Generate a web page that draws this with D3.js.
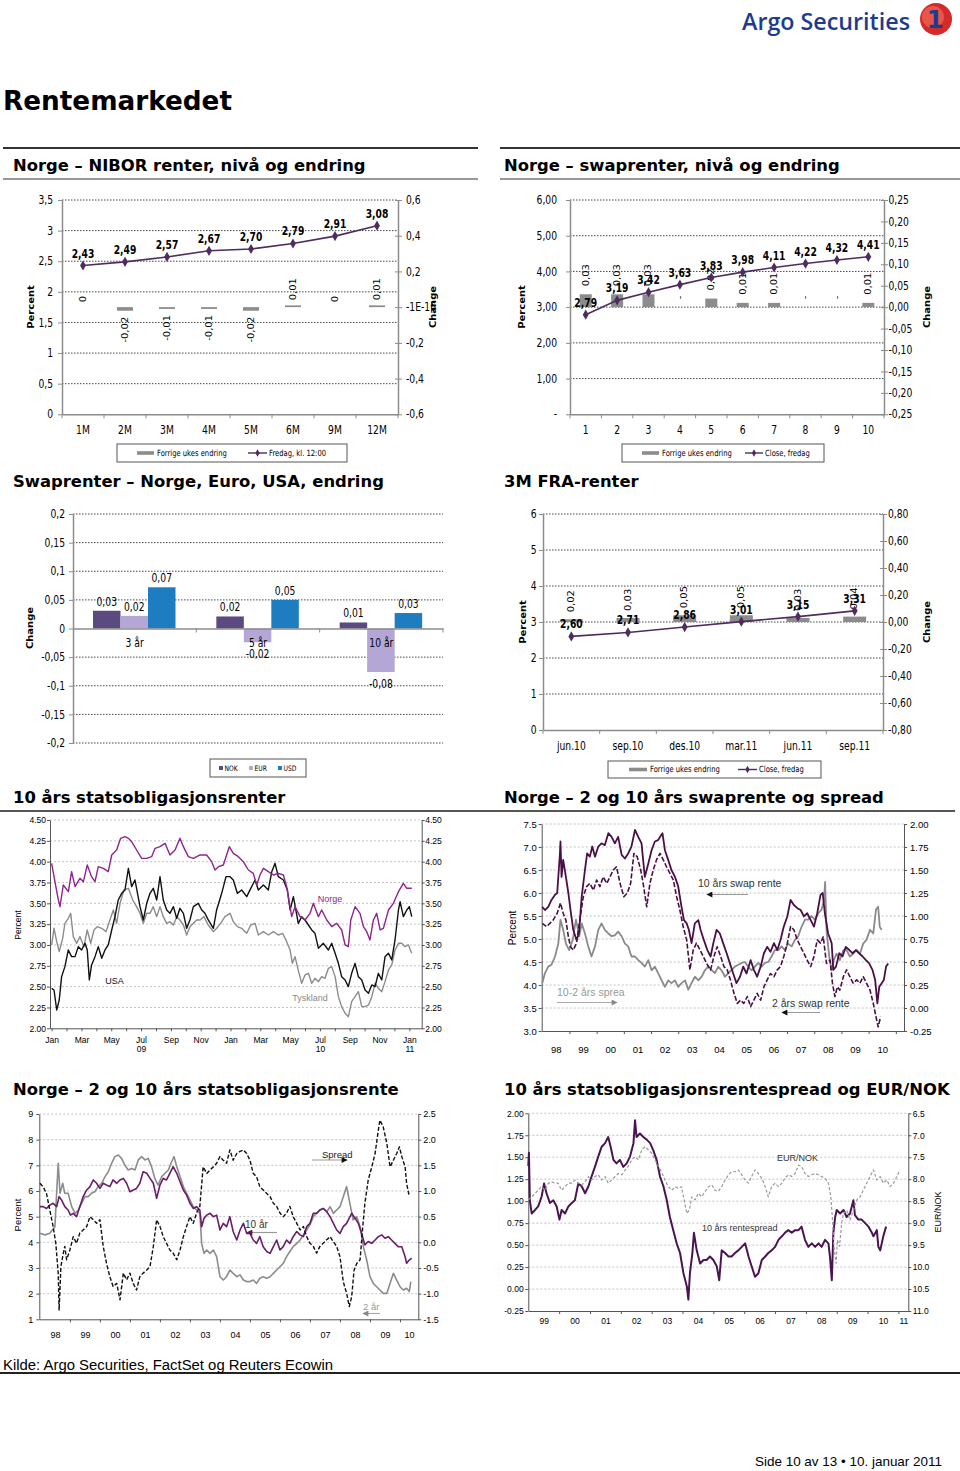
<!DOCTYPE html>
<html><head><meta charset="utf-8">
<script src="https://cdn.jsdelivr.net/npm/d3@7"></script>
<style>body{margin:0;background:#fff}svg{display:block}</style>
</head><body>
<script>
// ---------------- DATA ----------------
const niborCats = ["1M","2M","3M","4M","5M","6M","9M","12M"];
const niborLevel = [2.43,2.49,2.57,2.67,2.70,2.79,2.91,3.08];
const niborChange = [0,-0.02,-0.01,-0.01,-0.02,0.01,0,0.01];
const niborLeftTicks = [0,0.5,1,1.5,2,2.5,3,3.5];
const niborRightTicks = [-0.6,-0.4,-0.2,0,0.2,0.4,0.6];

const swapCats = ["1","2","3","4","5","6","7","8","9","10"];
const swapLevel = [2.79,3.19,3.42,3.63,3.83,3.98,4.11,4.22,4.32,4.41];
const swapChange = [0.03,0.03,0.03,0,0.02,0.01,0.01,0,0,0.01];
const swapLeftTicks = [0,1,2,3,4,5,6];
const swapRightTicks = [-0.25,-0.2,-0.15,-0.1,-0.05,0,0.05,0.1,0.15,0.2,0.25];

const tenorGroups = ["3 år","5 år","10 år"];
const currencies = ["NOK","EUR","USD"];
const nokChange = [0.031,0.021,0.0105];
const eurChange = [0.022,-0.024,-0.076];
const usdChange = [0.072,0.050,0.027];
const chgTicks = [-0.2,-0.15,-0.1,-0.05,0,0.05,0.1,0.15,0.2];

const fraCats = ["jun.10","sep.10","des.10","mar.11","jun.11","sep.11"];
const fraLevel = [2.60,2.71,2.86,3.01,3.15,3.31];
const fraChange = [0.02,0.03,0.05,0.05,0.03,0.04];
const fraLeftTicks = [0,1,2,3,4,5,6];
const fraRightTicks = [-0.8,-0.6,-0.4,-0.2,0,0.2,0.4,0.6,0.8];

// 10y government yields, [months since Jan 2009, %]
const norge10 = [[0.00,3.98],[0.22,3.76],[0.45,3.54],[0.56,3.46],[0.78,3.72],[1.12,3.64],[1.34,3.88],[1.57,3.70],[1.90,3.80],[2.13,3.76],[2.39,3.96],[2.68,3.82],[2.91,3.76],[3.13,3.94],[3.47,3.92],[3.80,3.88],[4.03,4.08],[4.36,4.14],[4.63,4.28],[4.92,4.30],[5.15,4.28],[5.37,4.24],[5.70,4.14],[6.04,4.04],[6.38,4.04],[6.71,4.06],[6.94,4.16],[7.27,4.18],[7.61,4.22],[7.94,4.08],[8.28,4.14],[8.61,4.28],[8.84,4.18],[9.17,4.06],[9.51,4.04],[9.96,4.08],[10.40,4.08],[10.74,4.00],[10.96,3.90],[11.19,3.94],[11.52,3.96],[11.92,4.18],[12.19,4.10],[12.53,4.06],[12.86,4.00],[13.20,3.90],[13.53,3.86],[13.76,3.72],[13.98,3.84],[14.21,3.92],[14.54,3.88],[14.88,3.84],[15.21,3.86],[15.55,3.84],[15.77,3.70],[15.95,3.50],[16.11,3.34],[16.33,3.46],[16.67,3.34],[17.00,3.30],[17.34,3.38],[17.56,3.50],[17.90,3.34],[18.12,3.42],[18.46,3.30],[18.79,3.22],[19.13,3.26],[19.46,3.18],[19.69,3.00],[19.91,2.98],[20.07,3.30],[20.36,3.46],[20.69,3.38],[20.92,3.22],[21.14,3.16],[21.36,3.06],[21.59,3.30],[21.81,3.38],[22.04,3.18],[22.26,3.20],[22.60,3.42],[22.93,3.50],[23.27,3.64],[23.60,3.74],[23.83,3.68],[24.16,3.68]];
const usa10 = [[0.00,2.48],[0.16,2.46],[0.34,2.22],[0.51,2.34],[0.67,2.62],[0.89,2.74],[1.12,2.94],[1.34,2.86],[1.57,2.86],[1.79,2.98],[2.01,2.94],[2.24,3.02],[2.39,2.94],[2.53,2.58],[2.68,2.76],[2.91,2.86],[3.13,2.98],[3.36,2.84],[3.58,2.94],[3.80,3.00],[4.03,3.18],[4.25,3.34],[4.47,3.54],[4.70,3.62],[4.92,3.66],[5.15,3.92],[5.37,3.70],[5.59,3.78],[5.93,3.46],[6.15,3.30],[6.38,3.50],[6.60,3.62],[6.82,3.68],[7.05,3.54],[7.27,3.82],[7.49,3.54],[7.72,3.42],[7.94,3.38],[8.17,3.46],[8.39,3.32],[8.61,3.44],[8.84,3.38],[9.06,3.20],[9.28,3.30],[9.51,3.46],[9.84,3.50],[10.07,3.42],[10.29,3.38],[10.51,3.30],[10.85,3.20],[11.07,3.42],[11.41,3.62],[11.70,3.82],[11.97,3.82],[12.19,3.78],[12.46,3.62],[12.75,3.66],[13.09,3.58],[13.36,3.68],[13.65,3.78],[13.87,3.66],[14.21,3.72],[14.54,3.66],[14.77,3.88],[14.99,3.98],[15.21,3.82],[15.55,3.78],[15.82,3.66],[16.00,3.42],[16.22,3.58],[16.55,3.26],[16.78,3.34],[17.00,3.30],[17.23,3.24],[17.45,3.18],[17.67,3.14],[17.90,2.96],[18.23,3.02],[18.57,2.94],[18.79,3.02],[19.02,2.90],[19.24,2.78],[19.46,2.62],[19.69,2.58],[19.91,2.50],[20.13,2.66],[20.36,2.78],[20.58,2.62],[20.81,2.58],[21.03,2.46],[21.26,2.42],[21.48,2.52],[21.70,2.50],[21.92,2.66],[22.15,2.58],[22.37,2.86],[22.60,2.90],[22.82,2.82],[23.04,3.06],[23.27,3.42],[23.38,3.52],[23.60,3.34],[23.83,3.42],[24.00,3.46],[24.16,3.34]];
const tyskland10 = [[0.00,3.00],[0.16,3.20],[0.34,3.04],[0.51,2.92],[0.74,3.08],[0.89,3.26],[1.12,3.32],[1.28,3.38],[1.45,3.10],[1.68,3.02],[1.90,3.10],[2.17,2.98],[2.39,3.18],[2.62,3.02],[2.84,3.18],[3.06,3.22],[3.36,3.20],[3.65,3.16],[3.91,3.30],[4.14,3.42],[4.36,3.26],[4.59,3.50],[4.85,3.66],[5.15,3.68],[5.44,3.54],[5.70,3.46],[5.93,3.38],[6.15,3.26],[6.38,3.38],[6.60,3.38],[6.82,3.46],[7.05,3.34],[7.27,3.46],[7.49,3.34],[7.72,3.26],[7.94,3.28],[8.17,3.24],[8.39,3.34],[8.61,3.30],[8.84,3.24],[9.06,3.12],[9.28,3.22],[9.51,3.26],[9.73,3.30],[9.96,3.30],[10.22,3.34],[10.51,3.24],[10.85,3.16],[11.07,3.20],[11.34,3.26],[11.63,3.34],[11.97,3.38],[12.19,3.28],[12.46,3.22],[12.75,3.20],[13.09,3.14],[13.36,3.24],[13.65,3.26],[13.87,3.12],[14.21,3.16],[14.54,3.12],[14.88,3.16],[15.21,3.12],[15.50,3.14],[15.77,3.04],[16.00,2.94],[16.15,2.78],[16.33,2.86],[16.60,2.66],[16.78,2.54],[17.00,2.64],[17.23,2.66],[17.45,2.54],[17.67,2.60],[17.90,2.56],[18.12,2.62],[18.34,2.60],[18.57,2.72],[18.79,2.74],[19.02,2.62],[19.24,2.38],[19.46,2.26],[19.69,2.18],[19.91,2.14],[20.13,2.32],[20.36,2.38],[20.58,2.44],[20.81,2.26],[21.03,2.26],[21.26,2.28],[21.48,2.38],[21.70,2.54],[21.92,2.48],[22.15,2.44],[22.37,2.56],[22.60,2.70],[22.82,2.76],[23.04,2.94],[23.27,3.02],[23.49,3.02],[23.71,2.98],[23.94,3.00],[24.16,2.90]];
const monthLabels = ["Jan","Mar","May","Jul","Sep","Nov","Jan","Mar","May","Jul","Sep","Nov","Jan"];
const yearLabels09 = ["09","10","11"];

// Norway swap rates, [years since Jan 1998, value]
const swap10y = [[0.00,5.70],[0.10,5.63],[0.22,5.70],[0.34,5.85],[0.47,5.96],[0.55,6.00],[0.65,6.86],[0.67,7.12],[0.71,6.35],[0.77,6.72],[0.87,6.35],[0.96,6.00],[1.04,5.63],[1.14,5.20],[1.26,4.98],[1.35,5.12],[1.45,5.92],[1.57,6.50],[1.65,6.86],[1.75,6.79],[1.84,7.01],[1.94,6.79],[2.06,7.01],[2.18,7.08],[2.30,7.04],[2.43,7.30],[2.55,7.22],[2.67,7.08],[2.79,7.22],[2.92,6.83],[3.04,6.75],[3.16,6.86],[3.28,7.01],[3.41,7.37],[3.53,7.22],[3.65,7.08],[3.77,6.35],[3.90,6.64],[4.02,6.93],[4.14,7.12],[4.26,7.15],[4.42,7.30],[4.51,6.93],[4.63,6.72],[4.75,6.50],[4.88,6.35],[5.00,6.14],[5.12,5.70],[5.21,5.41],[5.31,5.34],[5.39,5.20],[5.49,4.91],[5.61,5.34],[5.74,5.41],[5.82,5.20],[5.94,4.98],[6.07,4.76],[6.19,4.62],[6.29,4.91],[6.41,5.20],[6.53,5.12],[6.65,4.91],[6.78,4.69],[6.90,4.47],[7.02,4.25],[7.14,4.04],[7.27,4.18],[7.39,4.40],[7.51,4.25],[7.66,4.54],[7.78,4.33],[7.90,4.18],[8.03,4.40],[8.15,4.69],[8.27,4.83],[8.39,4.72],[8.52,4.91],[8.64,4.76],[8.76,4.98],[8.88,5.27],[9.01,5.49],[9.13,5.85],[9.25,5.74],[9.38,5.67],[9.50,5.63],[9.62,5.49],[9.74,5.56],[9.87,5.41],[9.99,5.27],[10.11,5.56],[10.23,5.96],[10.31,6.00],[10.39,5.56],[10.51,5.12],[10.64,4.91],[10.70,4.33],[10.80,4.40],[10.92,4.69],[11.04,4.62],[11.16,4.83],[11.29,4.76],[11.41,4.69],[11.53,4.76],[11.65,4.69],[11.78,4.62],[11.90,4.54],[12.02,4.47],[12.14,4.33],[12.24,4.11],[12.32,3.60],[12.39,3.96],[12.48,4.04],[12.56,4.11],[12.64,4.40],[12.72,4.47]];
const swap2y = [[0.00,5.34],[0.16,5.27],[0.28,5.34],[0.40,5.41],[0.55,5.56],[0.67,5.78],[0.77,5.56],[0.87,5.41],[0.96,5.05],[1.04,4.83],[1.14,4.76],[1.26,4.91],[1.38,5.41],[1.51,5.92],[1.63,6.14],[1.75,6.21],[1.88,6.06],[2.00,6.28],[2.12,6.14],[2.24,6.35],[2.37,6.21],[2.49,6.35],[2.61,6.50],[2.73,6.57],[2.86,6.21],[3.00,5.92],[3.13,6.00],[3.25,6.21],[3.37,6.86],[3.49,6.79],[3.62,6.50],[3.71,6.21],[3.84,5.70],[3.96,6.21],[4.08,6.50],[4.20,6.72],[4.33,6.86],[4.45,6.72],[4.57,6.57],[4.69,6.43],[4.82,6.28],[4.94,5.92],[5.06,5.63],[5.18,5.27],[5.31,4.98],[5.43,4.33],[5.55,4.76],[5.67,4.91],[5.80,4.76],[5.92,4.62],[6.04,4.47],[6.19,4.33],[6.31,4.62],[6.43,4.83],[6.56,4.62],[6.68,4.40],[6.80,4.33],[6.92,4.11],[7.05,3.82],[7.17,3.60],[7.29,3.67],[7.41,3.60],[7.54,3.75],[7.66,3.53],[7.78,3.67],[7.90,3.82],[8.03,3.67],[8.15,3.96],[8.27,4.11],[8.39,4.25],[8.52,4.18],[8.64,4.33],[8.76,4.40],[8.88,4.62],[9.01,4.91],[9.13,5.27],[9.25,5.20],[9.38,4.98],[9.50,4.83],[9.62,4.69],[9.74,4.54],[9.87,4.40],[9.99,4.62],[10.11,4.98],[10.23,4.91],[10.33,5.05],[10.45,4.47],[10.58,4.54],[10.67,4.04],[10.76,3.75],[10.85,3.96],[10.94,3.89],[11.07,4.18],[11.19,4.33],[11.31,4.18],[11.43,4.04],[11.56,4.11],[11.68,4.04],[11.80,4.18],[11.92,4.04],[12.05,3.89],[12.17,3.60],[12.27,3.31],[12.35,3.09],[12.44,3.31]];
const swapSpread = [[0.00,0.27],[0.10,0.38],[0.22,0.45],[0.34,0.47],[0.47,0.56],[0.59,0.70],[0.67,0.96],[0.77,0.85],[0.87,0.70],[0.99,0.63],[1.12,0.74],[1.24,0.96],[1.36,0.78],[1.45,0.92],[1.57,0.81],[1.69,0.67],[1.81,0.56],[1.94,0.67],[2.06,0.85],[2.18,0.92],[2.30,0.85],[2.43,0.81],[2.55,0.78],[2.67,0.79],[2.79,0.83],[2.92,0.78],[3.04,0.70],[3.16,0.67],[3.28,0.56],[3.41,0.56],[3.53,0.52],[3.65,0.49],[3.77,0.45],[3.90,0.52],[4.02,0.41],[4.14,0.45],[4.26,0.38],[4.39,0.30],[4.51,0.23],[4.63,0.30],[4.75,0.27],[4.88,0.30],[5.00,0.23],[5.12,0.27],[5.25,0.30],[5.37,0.20],[5.49,0.27],[5.61,0.34],[5.74,0.30],[5.86,0.34],[5.98,0.41],[6.10,0.45],[6.23,0.41],[6.35,0.38],[6.47,0.45],[6.59,0.41],[6.72,0.34],[6.84,0.38],[6.96,0.41],[7.08,0.45],[7.21,0.47],[7.33,0.49],[7.45,0.50],[7.57,0.45],[7.70,0.41],[7.82,0.45],[7.94,0.49],[8.06,0.45],[8.19,0.49],[8.31,0.50],[8.43,0.56],[8.55,0.63],[8.68,0.63],[8.80,0.67],[8.92,0.63],[9.04,0.70],[9.17,0.67],[9.29,0.74],[9.41,0.78],[9.53,0.88],[9.66,0.96],[9.78,0.96],[9.90,1.00],[10.02,0.96],[10.15,1.03],[10.27,1.07],[10.36,1.17],[10.40,1.37],[10.45,0.85],[10.55,0.56],[10.64,0.41],[10.72,0.52],[10.82,0.59],[10.94,0.52],[11.07,0.63],[11.19,0.63],[11.31,0.56],[11.43,0.59],[11.56,0.63],[11.68,0.59],[11.80,0.70],[11.92,0.74],[12.05,0.85],[12.17,0.81],[12.27,1.07],[12.35,1.10],[12.41,0.88],[12.48,0.85]];
const yearLabels98 = ["98","99","00","01","02","03","04","05","06","07","08","09","10"];

// Norway government bonds, [years since Jan 1998, value]
const gov10y = [[0.00,5.39],[0.11,5.39],[0.22,5.32],[0.33,5.45],[0.44,5.52],[0.56,5.39],[0.64,5.78],[0.72,5.65],[0.83,5.39],[0.94,5.26],[1.02,5.06],[1.11,5.13],[1.22,5.00],[1.33,5.39],[1.44,5.78],[1.56,6.04],[1.67,6.17],[1.78,6.43],[1.89,6.30],[2.00,6.10],[2.11,6.30],[2.22,6.23],[2.33,6.17],[2.44,6.43],[2.56,6.30],[2.67,6.43],[2.78,6.49],[2.89,6.30],[3.00,5.97],[3.11,6.04],[3.22,6.10],[3.33,6.30],[3.44,6.75],[3.56,6.69],[3.67,6.49],[3.78,6.30],[3.89,5.71],[4.00,6.23],[4.11,6.49],[4.22,6.43],[4.33,6.69],[4.44,6.95],[4.56,6.69],[4.67,6.36],[4.78,6.04],[4.89,5.84],[5.00,5.52],[5.11,5.32],[5.22,5.39],[5.33,5.26],[5.39,4.61],[5.47,4.94],[5.56,5.06],[5.67,5.13],[5.78,5.00],[5.89,5.06],[6.00,4.48],[6.11,4.74],[6.22,4.61],[6.33,5.00],[6.44,4.42],[6.56,4.09],[6.67,4.48],[6.78,4.74],[6.89,4.35],[7.00,4.35],[7.11,4.09],[7.22,3.96],[7.33,4.22],[7.44,3.83],[7.56,3.64],[7.67,3.57],[7.78,3.83],[7.89,4.09],[8.00,3.70],[8.11,3.83],[8.22,4.09],[8.33,3.96],[8.44,4.22],[8.56,4.42],[8.67,4.29],[8.78,4.22],[8.89,4.61],[9.00,4.74],[9.11,5.13],[9.22,5.13],[9.33,5.26],[9.44,5.32],[9.56,5.19],[9.67,5.00],[9.78,4.74],[9.89,4.48],[10.00,4.35],[10.11,4.61],[10.22,4.74],[10.39,5.13],[10.50,4.94],[10.61,4.74],[10.72,4.35],[10.83,3.90],[10.94,4.03],[11.06,3.96],[11.17,4.09],[11.28,4.22],[11.39,4.29],[11.50,4.16],[11.61,4.22],[11.72,4.09],[11.83,3.96],[11.94,3.83],[12.06,3.83],[12.17,3.44],[12.22,3.18],[12.31,3.31],[12.39,3.38]];
const gov2y = [[0.00,4.35],[0.17,4.29],[0.33,4.35],[0.50,4.61],[0.61,7.08],[0.67,5.91],[0.76,6.30],[0.83,5.91],[0.94,5.91],[1.06,5.39],[1.17,5.13],[1.28,5.26],[1.39,5.52],[1.50,5.78],[1.61,5.78],[1.72,5.91],[1.83,5.97],[1.94,6.17],[2.06,6.30],[2.17,6.56],[2.28,6.75],[2.39,7.08],[2.50,7.34],[2.61,7.40],[2.72,7.27],[2.83,7.01],[2.94,6.82],[3.06,6.88],[3.17,6.82],[3.28,7.21],[3.39,7.34],[3.50,7.21],[3.61,7.27],[3.72,6.95],[3.83,6.49],[3.94,6.23],[4.06,6.56],[4.17,6.69],[4.28,6.82],[4.39,7.14],[4.47,7.34],[4.56,6.95],[4.67,6.56],[4.78,6.17],[4.89,5.91],[5.00,5.65],[5.11,5.39],[5.22,5.26],[5.33,5.13],[5.39,3.96],[5.47,3.57],[5.56,3.70],[5.67,3.57],[5.78,3.70],[5.89,3.44],[6.00,2.66],[6.11,2.53],[6.22,2.66],[6.33,2.92],[6.44,2.79],[6.56,2.66],[6.67,2.73],[6.78,2.53],[6.89,2.47],[7.00,2.47],[7.11,2.53],[7.22,2.40],[7.33,2.60],[7.44,2.66],[7.56,2.60],[7.67,2.66],[7.78,2.79],[7.89,2.92],[8.00,3.05],[8.11,3.18],[8.22,3.44],[8.33,3.64],[8.44,3.83],[8.56,3.96],[8.67,4.09],[8.78,4.29],[8.89,4.48],[9.00,4.68],[9.11,5.00],[9.22,5.13],[9.33,5.26],[9.44,5.32],[9.56,5.19],[9.67,5.39],[9.78,5.13],[9.89,5.26],[10.00,5.39],[10.11,5.78],[10.22,6.17],[10.33,5.52],[10.44,4.87],[10.56,5.00],[10.67,4.61],[10.78,3.83],[10.89,3.31],[11.00,2.66],[11.11,2.40],[11.22,2.27],[11.33,2.14],[11.44,2.01],[11.56,2.01],[11.67,2.40],[11.78,2.79],[11.89,2.53],[12.00,2.27],[12.11,2.14],[12.22,2.21],[12.31,2.08],[12.36,2.47]];
const govSpread = [[0.00,1.15],[0.11,1.08],[0.22,0.95],[0.33,0.63],[0.44,0.31],[0.53,-0.02],[0.61,-0.60],[0.64,-1.32],[0.70,-0.47],[0.78,-0.21],[0.83,-0.08],[0.89,-0.34],[1.00,-0.15],[1.11,0.11],[1.22,-0.02],[1.33,0.18],[1.44,0.24],[1.56,0.31],[1.67,0.50],[1.78,0.44],[1.89,0.37],[2.00,0.44],[2.11,-0.08],[2.22,-0.41],[2.33,-0.67],[2.44,-0.86],[2.56,-0.80],[2.67,-1.12],[2.78,-0.60],[2.89,-0.73],[3.00,-0.60],[3.11,-0.80],[3.22,-0.93],[3.33,-0.67],[3.44,-0.60],[3.56,-0.54],[3.67,-0.47],[3.78,-0.08],[3.89,0.44],[4.00,0.31],[4.11,0.11],[4.22,-0.02],[4.33,-0.15],[4.44,-0.21],[4.56,-0.34],[4.67,-0.15],[4.78,0.11],[4.89,0.31],[5.00,0.50],[5.11,0.37],[5.22,0.57],[5.33,0.70],[5.44,1.47],[5.56,1.34],[5.67,1.41],[5.78,1.47],[5.89,1.54],[6.00,1.67],[6.11,1.60],[6.22,1.54],[6.33,1.80],[6.44,1.60],[6.56,1.73],[6.67,1.77],[6.78,1.80],[6.89,1.73],[7.00,1.60],[7.11,1.34],[7.22,1.28],[7.33,1.08],[7.44,1.02],[7.56,0.95],[7.67,0.89],[7.78,0.76],[7.89,0.70],[8.00,0.57],[8.11,0.50],[8.22,0.57],[8.33,0.70],[8.44,0.50],[8.56,0.37],[8.67,0.24],[8.78,0.31],[8.89,0.11],[9.00,-0.02],[9.11,-0.08],[9.22,-0.21],[9.33,-0.08],[9.44,-0.02],[9.56,0.05],[9.67,0.11],[9.78,0.01],[9.89,-0.08],[10.00,-0.28],[10.11,-0.77],[10.22,-0.99],[10.31,-1.25],[10.39,-1.06],[10.47,-0.54],[10.56,-0.41],[10.67,-0.34],[10.76,0.31],[10.83,0.76],[10.94,1.21],[11.06,1.47],[11.17,1.73],[11.28,2.19],[11.33,2.38],[11.44,2.25],[11.56,1.93],[11.67,1.47],[11.78,1.60],[11.89,1.73],[11.98,1.86],[12.06,1.67],[12.17,1.47],[12.22,1.15],[12.31,0.89]];

// 10y spread vs EUR/NOK, [years since Jan 1999, value]
const rateSpread = [[0.00,1.40],[0.02,1.55],[0.05,1.01],[0.11,0.86],[0.22,0.90],[0.32,0.94],[0.43,1.05],[0.51,1.20],[0.59,1.09],[0.70,0.98],[0.81,1.01],[0.92,0.94],[1.01,0.79],[1.08,0.90],[1.19,0.86],[1.30,0.94],[1.41,0.98],[1.51,1.01],[1.62,1.20],[1.73,1.17],[1.84,1.09],[1.95,1.17],[2.05,1.28],[2.16,1.39],[2.27,1.51],[2.38,1.62],[2.49,1.66],[2.59,1.73],[2.67,1.62],[2.76,1.47],[2.86,1.43],[2.97,1.47],[3.08,1.39],[3.19,1.43],[3.30,1.51],[3.41,1.66],[3.46,1.92],[3.51,1.73],[3.62,1.77],[3.73,1.73],[3.84,1.70],[3.95,1.66],[4.05,1.58],[4.16,1.47],[4.27,1.28],[4.38,1.17],[4.49,1.01],[4.59,0.82],[4.70,0.67],[4.81,0.52],[4.92,0.41],[5.03,0.18],[5.14,0.03],[5.19,-0.12],[5.24,0.18],[5.32,0.41],[5.37,0.64],[5.46,0.44],[5.57,0.29],[5.68,0.33],[5.78,0.33],[5.89,0.37],[6.00,0.33],[6.11,0.26],[6.19,0.10],[6.27,0.44],[6.38,0.41],[6.49,0.37],[6.59,0.37],[6.70,0.41],[6.81,0.44],[6.92,0.48],[7.03,0.52],[7.14,0.37],[7.24,0.26],[7.35,0.14],[7.46,0.18],[7.57,0.33],[7.68,0.37],[7.78,0.41],[7.89,0.44],[8.00,0.48],[8.11,0.56],[8.22,0.60],[8.32,0.64],[8.43,0.67],[8.54,0.64],[8.65,0.67],[8.76,0.67],[8.86,0.71],[8.97,0.56],[9.08,0.48],[9.19,0.52],[9.30,0.48],[9.41,0.52],[9.51,0.48],[9.62,0.56],[9.73,0.52],[9.78,0.37],[9.84,0.10],[9.89,0.64],[9.95,0.82],[10.00,0.90],[10.11,0.86],[10.22,0.90],[10.32,0.82],[10.43,0.86],[10.54,1.01],[10.59,0.84],[10.70,0.79],[10.81,0.79],[10.92,0.75],[11.03,0.71],[11.14,0.64],[11.19,0.60],[11.30,0.67],[11.35,0.48],[11.41,0.44],[11.51,0.60],[11.60,0.71]];
const eurNok = [[0.00,8.47],[0.11,8.40],[0.22,8.32],[0.32,8.25],[0.43,8.17],[0.54,8.25],[0.65,8.09],[0.76,8.06],[0.86,8.09],[0.97,8.09],[1.08,8.25],[1.19,8.17],[1.30,8.09],[1.41,8.09],[1.51,8.02],[1.62,8.09],[1.73,8.13],[1.84,8.06],[1.95,7.94],[2.05,8.02],[2.16,7.94],[2.27,7.90],[2.38,8.02],[2.49,7.94],[2.59,8.09],[2.70,8.02],[2.81,7.94],[2.92,7.87],[3.03,7.90],[3.14,7.79],[3.24,7.71],[3.35,7.56],[3.46,7.49],[3.57,7.56],[3.68,7.33],[3.78,7.26],[3.89,7.33],[4.00,7.41],[4.11,7.56],[4.22,7.71],[4.32,7.83],[4.43,8.02],[4.54,8.17],[4.65,8.25],[4.76,8.17],[4.86,8.21],[4.97,8.17],[5.05,8.47],[5.14,8.78],[5.22,8.70],[5.30,8.40],[5.41,8.47],[5.51,8.32],[5.62,8.40],[5.73,8.28],[5.84,8.17],[5.95,8.13],[6.05,8.25],[6.16,8.28],[6.27,8.17],[6.38,8.02],[6.49,7.90],[6.59,7.83],[6.70,7.83],[6.81,7.79],[6.92,7.90],[7.03,8.02],[7.14,8.09],[7.24,7.94],[7.35,7.79],[7.46,7.87],[7.57,7.98],[7.68,8.17],[7.78,8.40],[7.89,8.17],[8.00,8.09],[8.11,8.17],[8.22,8.09],[8.32,7.98],[8.43,7.90],[8.54,7.94],[8.65,7.87],[8.76,7.68],[8.86,7.71],[8.97,7.87],[9.08,7.94],[9.19,7.90],[9.30,7.87],[9.41,7.90],[9.51,7.94],[9.62,7.98],[9.73,8.09],[9.81,8.40],[9.87,9.00],[9.91,9.53],[9.98,9.91],[10.02,9.38],[10.09,9.53],[10.16,9.00],[10.22,8.78],[10.32,8.70],[10.43,8.93],[10.54,8.70],[10.65,8.47],[10.76,8.40],[10.86,8.25],[10.97,8.09],[11.08,7.94],[11.19,7.79],[11.30,8.02],[11.41,7.94],[11.51,8.09],[11.62,8.02],[11.73,8.17],[11.84,8.09],[11.95,7.94],[12.05,7.79]];
const yearLabels99 = ["99","00","01","02","03","04","05","06","07","08","09","10","11"];

// ---------------- DRAWING ----------------
const W = 960, H = 1471;
const DV = "DejaVu Sans", LS = "'Liberation Sans', Arial, sans-serif";
const svg = d3.select("body").append("svg").attr("width", W).attr("height", H);
const locC = d3.formatLocale({decimal: ",", thousands: ".", grouping: [3], currency: ["", ""], minus: "-"});
const locD = d3.formatLocale({decimal: ".", thousands: ",", grouping: [3], currency: ["", ""], minus: "-"});
const c2 = locC.format(".2f"), c1 = locC.format(".1f"), cg = locC.format("~g");
const d2 = locD.format(".2f"), d1 = locD.format(".1f"), d0 = locD.format("d");

function T(g, x, y, s, o = {}) {
  const sx = o.sx ?? 1;
  let tr = `translate(${x},${y})`;
  if (sx !== 1) tr += ` scale(${sx},1)`;
  if (o.rot) tr += ` rotate(${o.rot})`;
  const t = g.append("text").attr("transform", tr)
    .attr("text-anchor", o.anchor || "start")
    .attr("font-family", o.family || DV).attr("font-size", o.size || 11)
    .attr("font-weight", o.weight || "normal").attr("fill", o.fill || "#000").text(s);
  if (o.dy) t.attr("dy", o.dy);
  if (o.len) t.attr("textLength", o.len).attr("lengthAdjust", "spacingAndGlyphs");
  return t;
}
function rule(x1, x2, y, w, c) {
  svg.append("line").attr("x1", x1).attr("x2", x2).attr("y1", y).attr("y2", y).attr("stroke", c).attr("stroke-width", w);
}
function styleAx(a, o) {
  a.attr("font-family", o.font).attr("font-size", o.size);
  a.select(".domain").attr("stroke", o.color).attr("stroke-width", o.w);
  a.selectAll(".tick line").attr("stroke", o.color);
  const t = a.selectAll(".tick text").attr("fill", "#000");
  const sx = o.sx ?? 1;
  if (o.gap != null) t.attr("x", (o.side === "L" ? -o.gap : o.gap) / sx);
  if (sx !== 1) t.attr("transform", `scale(${sx},1)`);
}

// header
T(svg, 742, 30, "Argo Securities", {family: "'Open Sans'", size: 23, weight: 600, fill: "#1d3c8f", len: 168});
svg.append("circle").attr("cx", 936).attr("cy", 19).attr("r", 16).attr("fill", "#d42a2a");
svg.append("circle").attr("cx", 933).attr("cy", 17).attr("r", 11).attr("fill", "#e8564a");
T(svg, 935, 28, "1", {size: 24, weight: "bold", fill: "#1d3c8f", anchor: "middle"});
T(svg, 3, 110, "Rentemarkedet", {size: 26, weight: "bold", len: 229});

rule(3, 478, 148, 2, "#333"); rule(500, 960, 148, 2, "#333");
rule(3, 478, 179, 1.2, "#333"); rule(500, 960, 179, 1.2, "#333");
rule(0, 955, 811, 2, "#555");
rule(0, 960, 1373, 2, "#222");

const HS = {size: 16.4, weight: "bold"};
T(svg, 13, 171, "Norge – NIBOR renter, nivå og endring", HS);
T(svg, 504, 171, "Norge – swaprenter, nivå og endring", HS);
T(svg, 13, 487, "Swaprenter – Norge, Euro, USA, endring", HS);
T(svg, 504, 487, "3M FRA-renter", HS);
T(svg, 13, 803, "10 års statsobligasjonsrenter", HS);
T(svg, 504, 803, "Norge – 2 og 10 års swaprente og spread", HS);
T(svg, 13, 1095, "Norge – 2 og 10 års statsobligasjonsrente", HS);
T(svg, 504, 1095, "10 års statsobligasjonsrentespread og EUR/NOK", HS);

T(svg, 3, 1370, "Kilde: Argo Securities, FactSet og Reuters Ecowin", {family: "'Liberation Sans Narrow', 'Liberation Sans'", size: 14, len: 330});
T(svg, 942, 1466, "Side 10 av 13 • 10. januar 2011", {family: "'Liberation Sans Narrow', 'Liberation Sans'", size: 13, anchor: "end", len: 187});

const SX = 0.8, LINEC = "#4e2c5e", BARC = "#8c8c8c", AXC = "#8c8c8c";

function legendBox(g, box) {
  g.append("rect").attr("x", box[0]).attr("y", box[1]).attr("width", box[2] - box[0]).attr("height", box[3] - box[1])
    .attr("fill", "#fff").attr("stroke", "#555").attr("stroke-width", 1);
}

function combo(o) {
  const g = svg.append("g");
  const x = d3.scaleBand().domain(o.cats).range([o.x0, o.x1]);
  const yL = d3.scaleLinear().domain(o.lDom).range([o.yB, o.yT]);
  const yR = d3.scaleLinear().domain(o.rDom).range([o.yB, o.yT]);
  const cx = i => x(o.cats[i]) + x.bandwidth() / 2;
  g.selectAll(null).data(o.lTicks.slice(1)).join("line")
    .attr("x1", o.x0).attr("x2", o.x1).attr("y1", d => yL(d)).attr("y2", d => yL(d))
    .attr("stroke", "#333").attr("stroke-width", 0.9).attr("stroke-dasharray", "1.5,1.5");
  const aL = g.append("g").attr("transform", `translate(${o.x0},0)`)
    .call(d3.axisLeft(yL).tickValues(o.lTicks).tickFormat(o.lFmt).tickSize(4).tickSizeOuter(0));
  styleAx(aL, {font: DV, size: 11.5, color: AXC, w: 1.5, gap: o.lGap, side: "L", sx: SX});
  const aR = g.append("g").attr("transform", `translate(${o.x1},0)`)
    .call(d3.axisRight(yR).tickValues(o.rTicks).tickFormat(o.rFmt).tickSize(4).tickSizeOuter(0));
  styleAx(aR, {font: DV, size: 11.5, color: AXC, w: 1.5, gap: o.rGap, side: "R", sx: SX});
  aR.selectAll(".tick line").attr("x1", -3);
  const aB = g.append("g").attr("transform", `translate(0,${o.yB})`)
    .call(d3.axisBottom(x).tickSize(0).tickPadding(11.5).tickSizeOuter(0));
  styleAx(aB, {font: DV, size: 11.5, color: AXC, w: 1.5, sx: SX});
  g.selectAll(null).data(o.cats.map(c => x(c)).concat([x.range()[1]])).join("line")
    .attr("x1", d => d).attr("x2", d => d).attr("y1", o.yB).attr("y2", o.yB + 4).attr("stroke", AXC);
  // bars
  const y0 = yR(0);
  g.selectAll(null).data(o.change).join("rect")
    .attr("x", (d, i) => cx(i) - o.barW / 2).attr("width", o.barW)
    .attr("y", d => Math.min(yR(d), y0)).attr("height", d => Math.abs(yR(d) - y0)).attr("fill", BARC);
  o.change.forEach((d, i) => {
    const s = d === 0 ? o.zeroLbl : c2(d);
    if (d < 0) T(g, cx(i), yR(d) + o.negGap, s, {rot: -90, anchor: "end", sx: SX, size: 10, dy: "0.35em"});
    else T(g, cx(i), yR(d) - o.posGap, s, {rot: -90, anchor: "start", sx: SX, size: 10, dy: "0.35em"});
  });
  // line
  g.append("path").datum(o.level).attr("d", d3.line().x((d, i) => cx(i)).y(d => yL(d)))
    .attr("fill", "none").attr("stroke", LINEC).attr("stroke-width", 1.6);
  g.selectAll(null).data(o.level).join("path")
    .attr("transform", (d, i) => `translate(${cx(i)},${yL(d)})`)
    .attr("d", d3.symbol(d3.symbolDiamond, 30)).attr("fill", LINEC);
  o.level.forEach((d, i) => T(g, cx(i), yL(d) - 8, c2(d), {anchor: "middle", sx: SX, size: 11.5, weight: "bold"}));
  // titles
  T(g, o.pctX, o.titleY, "Percent", {rot: -90, anchor: "middle", sx: SX, size: 10, weight: "bold", dy: "0.35em"});
  T(g, o.chgX, o.titleY, "Change", {rot: -90, anchor: "middle", sx: SX, size: 10, weight: "bold", dy: "0.35em"});
  // legend
  const L = o.legend, ly = (L.box[1] + L.box[3]) / 2;
  legendBox(g, L.box);
  g.append("rect").attr("x", L.bar[0]).attr("y", ly - 1.8).attr("width", L.bar[1] - L.bar[0]).attr("height", 3.6).attr("fill", BARC);
  T(g, L.t1, ly, L.names[0], {size: 8.5, sx: SX, dy: "0.35em"});
  g.append("line").attr("x1", L.line[0]).attr("x2", L.line[1]).attr("y1", ly).attr("y2", ly).attr("stroke", LINEC).attr("stroke-width", 1.4);
  g.append("path").attr("transform", `translate(${(L.line[0] + L.line[1]) / 2},${ly})`).attr("d", d3.symbol(d3.symbolDiamond, 16)).attr("fill", LINEC);
  T(g, L.t2, ly, L.names[1], {size: 8.5, sx: SX, dy: "0.35em"});
}

combo({cats: niborCats, level: niborLevel, change: niborChange, x0: 62, x1: 398, yT: 200, yB: 414.3,
  lDom: [0, 3.5], lTicks: niborLeftTicks, lFmt: cg, rDom: [-0.6, 0.6], rTicks: niborRightTicks,
  rFmt: d => d === 0 ? "-1E-16" : c1(d), lGap: 9, rGap: 8, barW: 16, posGap: 5, negGap: 6, zeroLbl: "0",
  pctX: 31, chgX: 433, titleY: 307,
  legend: {box: [117, 444, 347, 462], bar: [137, 154], t1: 157, line: [248, 267], t2: 269, names: ["Forrige ukes endring", "Fredag, kl. 12:00"]}});

combo({cats: swapCats, level: swapLevel, change: swapChange, x0: 570, x1: 884, yT: 200, yB: 414.3,
  lDom: [0, 6], lTicks: swapLeftTicks, lFmt: d => d === 0 ? "-" : c2(d), rDom: [-0.25, 0.25], rTicks: swapRightTicks,
  rFmt: c2, lGap: 13, rGap: 4.5, barW: 12, posGap: 8, negGap: 6, zeroLbl: "-",
  pctX: 522, chgX: 927, titleY: 307,
  legend: {box: [622, 444, 824, 462], bar: [642, 659], t1: 662, line: [745, 763], t2: 765, names: ["Forrige ukes endring", "Close, fredag"]}});

combo({cats: fraCats, level: fraLevel, change: fraChange, x0: 543, x1: 883, yT: 514, yB: 730,
  lDom: [0, 6], lTicks: fraLeftTicks, lFmt: d => String(d), rDom: [-0.8, 0.8], rTicks: fraRightTicks,
  rFmt: c2, lGap: 6.5, rGap: 5, barW: 23, posGap: 7, negGap: 6, zeroLbl: "-",
  pctX: 523, chgX: 927, titleY: 622,
  legend: {box: [608, 761, 821, 778], bar: [629, 647], t1: 650, line: [738, 757], t2: 759, names: ["Forrige ukes endring", "Close, fredag"]}});

// grouped bar chart
(function () {
  const g = svg.append("g");
  const x0 = 73, x1 = 443, yT = 514, yB = 743;
  const colors = {NOK: "#5b4a7f", EUR: "#b4a6d5", USD: "#1e7dc0"};
  const gx = d3.scaleBand().domain(tenorGroups).range([x0, x1]);
  const bx = d3.scaleBand().domain(currencies).range([20, 102.5]);
  const y = d3.scaleLinear().domain([-0.2, 0.2]).range([yB, yT]);
  const vals = {NOK: nokChange, EUR: eurChange, USD: usdChange};
  g.selectAll(null).data(chgTicks.filter(v => v !== 0)).join("line")
    .attr("x1", x0).attr("x2", x1).attr("y1", d => y(d)).attr("y2", d => y(d))
    .attr("stroke", "#333").attr("stroke-width", 0.9).attr("stroke-dasharray", "1.5,1.5");
  const aL = g.append("g").attr("transform", `translate(${x0},0)`)
    .call(d3.axisLeft(y).tickValues(chgTicks).tickFormat(cg).tickSize(4).tickSizeOuter(0));
  styleAx(aL, {font: DV, size: 11.5, color: AXC, w: 1.5, gap: 8, side: "L", sx: SX});
  const rows = [];
  tenorGroups.forEach((t, gi) => currencies.forEach(c => rows.push({t, c, v: vals[c][gi]})));
  g.selectAll(null).data(rows).join("rect")
    .attr("x", d => gx(d.t) + bx(d.c)).attr("width", bx.bandwidth())
    .attr("y", d => Math.min(y(d.v), y(0))).attr("height", d => Math.abs(y(d.v) - y(0)))
    .attr("fill", d => colors[d.c]);
  const aB = g.append("g").attr("transform", `translate(0,${y(0)})`)
    .call(d3.axisBottom(gx).tickSize(0).tickFormat("").tickSizeOuter(0));
  styleAx(aB, {font: DV, size: 11.5, color: AXC, w: 1.5});
  g.selectAll(null).data(tenorGroups.map(t => gx(t)).slice(1).concat([x1])).join("line")
    .attr("x1", d => d).attr("x2", d => d).attr("y1", y(0)).attr("y2", y(0) + 4).attr("stroke", AXC);
  tenorGroups.forEach(t => T(g, gx(t) + gx.bandwidth() / 2, 647, t, {anchor: "middle", sx: SX, size: 11.5}));
  rows.forEach(d => {
    const cxp = gx(d.t) + bx(d.c) + bx.bandwidth() / 2;
    if (d.v >= 0) T(g, cxp, y(d.v) - 5, c2(d.v), {anchor: "middle", sx: SX, size: 11.5});
    else T(g, cxp, y(d.v) + 16, c2(d.v), {anchor: "middle", sx: SX, size: 11.5});
  });
  T(g, 30, 628, "Change", {rot: -90, anchor: "middle", sx: SX, size: 10, weight: "bold", dy: "0.35em"});
  legendBox(g, [210, 759, 306, 777]);
  const lx = [219, 249, 278];
  currencies.forEach((c, i) => {
    g.append("rect").attr("x", lx[i]).attr("y", 766).attr("width", 4).attr("height", 4).attr("fill", colors[c]);
    T(g, lx[i] + 5.5, 768.5, c, {size: 7.5, sx: SX, dy: "0.35em"});
  });
})();

// ---------------- time series charts ----------------
const defs = svg.append("defs");
function marker(id, color) {
  defs.append("marker").attr("id", id).attr("viewBox", "0 0 10 10").attr("refX", 9).attr("refY", 5)
    .attr("markerWidth", 9).attr("markerHeight", 6).attr("markerUnits", "userSpaceOnUse").attr("orient", "auto")
    .append("path").attr("d", "M0,0L10,5L0,10z").attr("fill", color);
}
marker("ahBlack", "#111"); marker("ahGray", "#888"); marker("ahPurple", "#5a1a55");
function arrow(g, xa, ya, xb, yb, col, head) {
  g.append("line").attr("x1", xa).attr("y1", ya).attr("x2", xb).attr("y2", yb)
    .attr("stroke", col).attr("stroke-width", 1.2).attr("marker-end", `url(#${head})`);
}

function ts(o) {
  const g = svg.append("g");
  const x = d3.scaleLinear().domain(o.xDom).range([o.x0, o.x1]);
  const yL = d3.scaleLinear().domain(o.lDom).range([o.yB, o.yT]);
  const yR = d3.scaleLinear().domain(o.rDom).range([o.yB, o.yT]);
  g.selectAll(null).data(o.lTicks.slice(1)).join("line")
    .attr("x1", o.x0).attr("x2", o.x1).attr("y1", d => yL(d)).attr("y2", d => yL(d))
    .attr("stroke", "#b4b4b4").attr("stroke-width", 0.8).attr("stroke-dasharray", "2,2");
  const AC = "#555";
  const aL = g.append("g").attr("transform", `translate(${o.x0},0)`)
    .call(d3.axisLeft(yL).tickValues(o.lTicks).tickFormat(o.lFmt).tickSize(3).tickSizeOuter(0));
  styleAx(aL, {font: LS, size: o.fs, color: AC, w: 1, gap: o.lGap, side: "L"});
  const aR = g.append("g").attr("transform", `translate(${o.x1},0)`)
    .call(d3.axisRight(yR).tickValues(o.rTicks).tickFormat(o.rFmt).tickSize(3).tickSizeOuter(0));
  styleAx(aR, {font: LS, size: o.fs, color: AC, w: 1, gap: o.rGap, side: "R"});
  const aB = g.append("g").attr("transform", `translate(0,${o.yB})`)
    .call(d3.axisBottom(x).tickValues(o.xMarks).tickFormat("").tickSize(3).tickSizeOuter(0));
  styleAx(aB, {font: LS, size: o.fs, color: AC, w: 1});
  o.xLabelRows.forEach(r => {
    const a = g.append("g").attr("transform", `translate(0,${o.yB})`)
      .call(d3.axisBottom(x).tickValues(r.pos).tickFormat((d, i) => r.labels[i]).tickSize(0).tickPadding(r.pad));
    a.select(".domain").remove();
    styleAx(a, {font: LS, size: o.fs, color: AC, w: 1});
  });
  o.series.forEach(s => {
    const y = s.axis === "R" ? yR : yL;
    g.append("path").datum(s.data).attr("d", d3.line().x(d => x(d[0])).y(d => y(d[1])))
      .attr("fill", "none").attr("stroke", s.color).attr("stroke-width", s.w)
      .attr("stroke-dasharray", s.dash || null).attr("stroke-linejoin", "round");
  });
  return g;
}

// chart 5: 10y government yields
const months = d3.range(0, 25);
const g5 = ts({x0: 50, x1: 421.7, xDom: [-0.11, 24.83], yT: 820, yB: 1028.3,
  lDom: [2, 4.5], rDom: [2, 4.5], lTicks: [2, 2.25, 2.5, 2.75, 3, 3.25, 3.5, 3.75, 4, 4.25, 4.5],
  rTicks: [2, 2.25, 2.5, 2.75, 3, 3.25, 3.5, 3.75, 4, 4.25, 4.5], lFmt: d2, rFmt: d2, lGap: 4, rGap: 3.5, fs: 8.5,
  xMarks: months,
  xLabelRows: [{pos: months.filter(m => m % 2 === 0), labels: monthLabels, pad: 8.5},
               {pos: [6, 18, 24], labels: yearLabels09, pad: 18}],
  series: [{data: tyskland10, color: "#8c8c8c", w: 1.4}, {data: usa10, color: "#111", w: 1.4}, {data: norge10, color: "#8e248e", w: 1.4}]});
T(g5, 330, 902, "Norge", {family: LS, size: 9, fill: "#8e248e", anchor: "middle"});
T(g5, 114.5, 984, "USA", {family: LS, size: 9, fill: "#111", anchor: "middle"});
T(g5, 310, 1001, "Tyskland", {family: LS, size: 9, fill: "#888", anchor: "middle"});
T(g5, 18, 925, "Percent", {family: LS, size: 8.5, rot: -90, anchor: "middle", dy: "0.35em"});

// chart 6: swap rates
const g6 = ts({x0: 541.7, x1: 904, xDom: [-0.02, 13.3], yT: 824, yB: 1031,
  lDom: [3, 7.5], rDom: [-0.25, 2], lTicks: [3, 3.5, 4, 4.5, 5, 5.5, 6, 6.5, 7, 7.5],
  rTicks: [-0.25, 0, 0.25, 0.5, 0.75, 1, 1.25, 1.5, 1.75, 2], lFmt: d1, rFmt: d2, lGap: 5, rGap: 6, fs: 9.5,
  xMarks: d3.range(1, 14),
  xLabelRows: [{pos: yearLabels98.map((s, i) => i + 0.5), labels: yearLabels98, pad: 15}],
  series: [{data: swapSpread, axis: "R", color: "#8a8a8a", w: 1.8},
           {data: swap2y, color: "#4a1045", w: 1.6, dash: "5,2"},
           {data: swap10y, color: "#4a1045", w: 1.8}]});
T(g6, 698, 887, "10 års swap rente", {family: LS, size: 10.5, fill: "#333"});
arrow(g6, 748, 894.5, 707, 894.5, "#999", "ahBlack");
T(g6, 557, 995.5, "10-2 års sprea", {family: LS, size: 10.5, fill: "#999"});
arrow(g6, 557, 1002.5, 617, 1002.5, "#aaa", "ahGray");
T(g6, 772, 1006.5, "2 års swap rente", {family: LS, size: 10.5, fill: "#333"});
arrow(g6, 820, 1012.5, 782, 1012.5, "#999", "ahBlack");
T(g6, 512, 928, "Percent", {family: LS, size: 10, rot: -90, anchor: "middle", dy: "0.35em"});

// chart 7: government bonds
const g7 = ts({x0: 39.3, x1: 418.3, xDom: [-0.02, 12.61], yT: 1114, yB: 1319.3,
  lDom: [1, 9], rDom: [-1.5, 2.5], lTicks: [1, 2, 3, 4, 5, 6, 7, 8, 9],
  rTicks: [-1.5, -1, -0.5, 0, 0.5, 1, 1.5, 2, 2.5], lFmt: d0, rFmt: d1, lGap: 6, rGap: 5, fs: 9,
  xMarks: d3.range(1, 13),
  xLabelRows: [{pos: yearLabels98.map((s, i) => i < 12 ? i + 0.5 : 12.3), labels: yearLabels98, pad: 12.5}],
  series: [{data: gov2y, color: "#8c8c8c", w: 1.6},
           {data: gov10y, color: "#6a1e6a", w: 1.6},
           {data: govSpread, axis: "R", color: "#111", w: 1.4, dash: "4,2"}]});
T(g7, 322, 1157.5, "Spread", {family: LS, size: 9.5, fill: "#222"});
arrow(g7, 312, 1160, 347, 1160, "#999", "ahBlack");
T(g7, 245, 1227.5, "10 år", {family: LS, size: 10, fill: "#333"});
arrow(g7, 277, 1232.5, 247, 1232.5, "#999", "ahPurple");
T(g7, 363, 1310, "2 år", {family: LS, size: 9.5, fill: "#999"});
arrow(g7, 380, 1313.5, 363, 1313.5, "#aaa", "ahGray");
T(g7, 18, 1215, "Percent", {family: LS, size: 9.5, rot: -90, anchor: "middle", dy: "0.35em"});

// chart 8: spread and EUR/NOK
const g8 = ts({x0: 528.3, x1: 908.3, xDom: [0, 12.32], yT: 1113.3, yB: 1311,
  lDom: [-0.25, 2], rDom: [11, 6.5], lTicks: [-0.25, 0, 0.25, 0.5, 0.75, 1, 1.25, 1.5, 1.75, 2],
  rTicks: [6.5, 7, 7.5, 8, 8.5, 9, 9.5, 10, 10.5, 11], lFmt: d2, rFmt: d1, lGap: 4.7, rGap: 4.5, fs: 8.5,
  xMarks: d3.range(1, 13),
  xLabelRows: [{pos: yearLabels99.map((s, i) => i < 12 ? i + 0.5 : 12.16), labels: yearLabels99, pad: 6.5}],
  series: [{data: rateSpread, color: "#4a1450", w: 2},
           {data: eurNok, axis: "R", color: "#9a9a9a", w: 1.2, dash: "3,2"}]});
T(g8, 777, 1160.5, "EUR/NOK", {family: LS, size: 9, fill: "#333"});
T(g8, 702, 1231, "10 års rentespread", {family: LS, size: 9, fill: "#333"});
T(g8, 938, 1212, "EUR/NOK", {family: LS, size: 9, rot: -90, anchor: "middle", dy: "0.35em"});
</script>
</body></html>
